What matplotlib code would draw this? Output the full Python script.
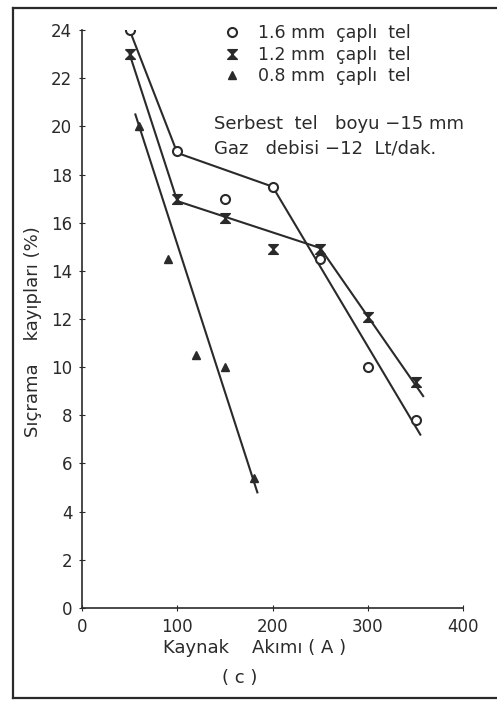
import matplotlib.pyplot as plt
from matplotlib.lines import Line2D
import numpy as np

# measured points
cur_16 = [50, 100, 150, 200, 250, 300, 350]
val_16 = [24.0, 19.0, 17.0, 17.5, 14.5, 10.0, 7.8]
cur_12 = [50, 100, 150, 200, 250, 300, 350]
val_12 = [23.0, 17.0, 16.2, 14.9, 14.9, 12.1, 9.4]
cur_08 = [60, 90, 120, 150, 180]
val_08 = [20.0, 14.5, 10.5, 10.0, 5.4]

# hand-drawn fit lines (break points)
fit_x_16 = [50, 100, 200, 355]
fit_y_16 = [24.0, 18.9, 17.5, 7.2]
fit_x_12 = [50, 100, 250, 358]
fit_y_12 = [23.0, 16.9, 14.95, 8.8]
fit_x_08 = [56, 184]
fit_y_08 = [20.5, 4.8]

labels = ['1.6 mm  çaplı  tel', '1.2 mm  çaplı  tel', '0.8 mm  çaplı  tel']
xticks = [0, 100, 200, 300, 400]
yticks = [0, 2, 4, 6, 8, 10, 12, 14, 16, 18, 20, 22, 24]

ink = '#2a2a2a'
plt.rcParams['font.family'] = ['DejaVu Sans']
hourglass = [(-1, 1), (1, 1), (-1, -1), (1, -1), (-1, 1)]

fig = plt.figure(figsize=(4.97, 7.02), dpi=100)
ax = fig.add_axes([0.165, 0.134, 0.767, 0.823])

ax.plot(fit_x_16, fit_y_16, color=ink, lw=1.5)
ax.plot(fit_x_12, fit_y_12, color=ink, lw=1.5)
ax.plot(fit_x_08, fit_y_08, color=ink, lw=1.5)

ax.plot(cur_16, val_16, 'o', ms=6.5, mfc='white', mec=ink, mew=1.5, ls='none')
ax.plot(cur_12, val_12, marker=hourglass, ms=7, color=ink, ls='none')
ax.plot(cur_08, val_08, '^', ms=5.5, color=ink, ls='none')

ax.set_xlim(0, 400)
ax.set_ylim(0, 24)
ax.set_xticks(xticks)
ax.set_yticks(yticks)
ax.spines['top'].set_visible(False)
ax.spines['right'].set_visible(False)
ax.spines['left'].set_color(ink)
ax.spines['bottom'].set_color(ink)
ax.spines['left'].set_linewidth(1.2)
ax.spines['bottom'].set_linewidth(1.2)
ax.tick_params(direction='inout', length=4, color=ink, labelcolor=ink, labelsize=12, pad=5)

fig.text(255 / 497, 1 - 648 / 702, 'Kaynak    Akımı ( A )', fontsize=13, color=ink,
         ha='center', va='center')
fig.text(240 / 497, 1 - 678 / 702, '( c )', fontsize=13, color=ink, ha='center', va='center')
fig.text(33 / 497, 1 - 332 / 702, 'Sıçrama    kayıpları (%)', fontsize=13, color=ink,
         rotation=90, ha='center', va='center')

handles = [
    Line2D([], [], marker='o', ms=6.5, mfc='white', mec=ink, mew=1.5, ls='none'),
    Line2D([], [], marker=hourglass, ms=7, color=ink, ls='none'),
    Line2D([], [], marker='^', ms=5.5, color=ink, ls='none'),
]
ax.legend(handles, labels, loc='upper left', bbox_to_anchor=(0.33, 1.037), frameon=False,
          fontsize=12.5, handletextpad=1.0, labelspacing=0.2, handlelength=1.0,
          labelcolor=ink)

ax.text(139, 20.1, 'Serbest  tel   boyu −15 mm', fontsize=13, color=ink, va='center')
ax.text(139, 19.1, 'Gaz   debisi −12  Lt/dak.', fontsize=13, color=ink, va='center')

# scanned page frame (top, left, bottom)
frame_kw = dict(color=ink, lw=1.6, transform=fig.transFigure)
fig.add_artist(Line2D([0.026, 1.0], [0.988, 0.988], **frame_kw))
fig.add_artist(Line2D([0.026, 0.026], [0.006, 0.988], **frame_kw))
fig.add_artist(Line2D([0.026, 1.0], [0.006, 0.006], **frame_kw))

fig.savefig('out.png', dpi=100)
